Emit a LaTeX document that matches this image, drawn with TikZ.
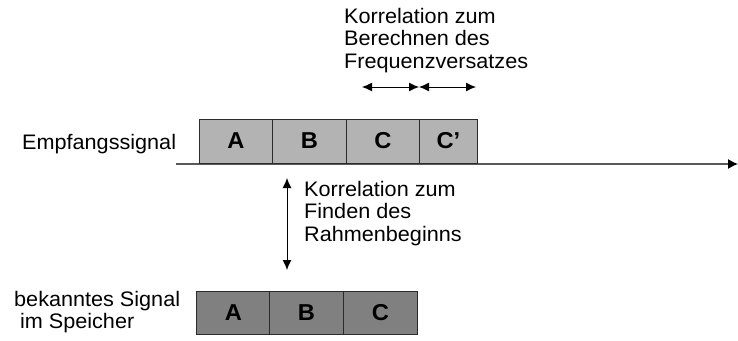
\documentclass[tikz,border=0pt]{standalone}
\usepackage{fontspec}
\setmainfont{Liberation Sans}[FakeStretch=1.03]
\usetikzlibrary{arrows.meta}
\definecolor{hell}{HTML}{B3B3B3}
\definecolor{dunkel}{HTML}{808080}
\definecolor{rand}{HTML}{2B2B2B}

\begin{document}
\begin{tikzpicture}[x=1pt,y=-1pt,
  feld/.style={draw=rand,line width=0.9pt,inner sep=0pt,anchor=west,font=\fontsize{23}{23}\selectfont\bfseries},
  txt/.style={inner sep=0pt,align=left,anchor=north west},
  pfeil/.style={line width=1pt,{Latex[length=10pt,width=9pt]}-{Latex[length=10pt,width=9pt]}}]
  \fontsize{21}{22.5}\selectfont
  \useasboundingbox (0,0) rectangle (738,340);
  % Empfangssignal mit Zeitachse
  \coordinate (start) at (176,164);
  \coordinate (ende) at (738,164);
  \draw[line width=1.2pt,black!65,-{Latex[length=10pt,width=10pt,black]}] (start) -- (ende);
  \foreach \n/\t/\x/\w in {oA/A/199/73,oB/B/272/74,oC/C/346/73,oD/C'/419/58}{
     \node[feld,fill=hell,minimum width=\w pt,minimum height=44pt] (\n) at (\x,141) {\t};}
  \node[txt] (empf) at (22,134) {Empfangssignal};
  % bekanntes Signal
  \foreach \n/\t/\x in {uA/A/196,uB/B/269,uC/C/343}{
     \node[feld,fill=dunkel,minimum width=74pt,minimum height=43pt] (\n) at (\x,312.5) {\t};}
  \node[txt] (bek) at (14,291) {bekanntes Signal\\\hspace*{0.28em}im Speicher};
  % Korrelationen
  \coordinate (f1) at (362,87);
  \coordinate (f2) at (419,87);
  \coordinate (f3) at (476,87);
  \draw[pfeil] (f1) -- (f2);
  \draw[pfeil] (f2) -- (f3);
  \node[txt] (frq) at (344,8) {Korrelation zum\\Berechnen des\\Frequenzversatzes};
  \coordinate (r1) at (287,178);
  \coordinate (r2) at (287,270);
  \draw[pfeil] (r1) -- (r2);
  \node[txt] (rah) at (304,181) {Korrelation zum\\Finden des\\Rahmenbeginns};
\end{tikzpicture}
\end{document}
